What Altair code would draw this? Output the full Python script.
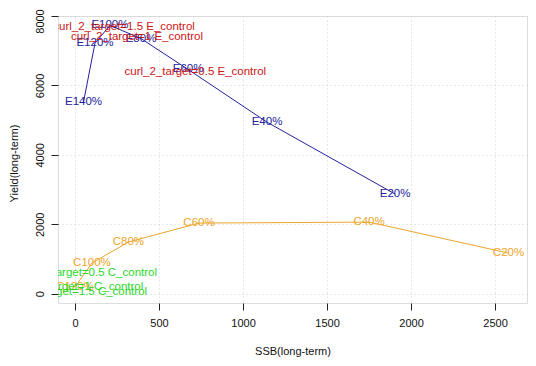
import altair as alt
import pandas as pd

# Blue "E" series
e_labels = ["E140%", "E120%", "E100%", "E80%", "E60%", "E40%", "E20%"]
e_ssb = [51, 119, 208, 393, 673, 1143, 1905]
e_yield = [5525, 7214, 7732, 7350, 6461, 4941, 2870]

# Orange "C" series
c_labels = ["C20%", "C40%", "C60%", "C80%", "C100%", "C120%"]
c_ssb = [2580, 1750, 738, 318, 101, 0]
c_yield = [1170, 2063, 2034, 1488, 883, 191]

# Red control labels
r_labels = ["curl_2_target=1.5 E_control", "curl_2_target=1 E_control", "curl_2_target=0.5 E_control"]
r_ssb = [292, 369, 716]
r_yield = [7674, 7387, 6380]

# Green control labels
g_labels = ["curl_2_target=0.5 C_control", "curl_2_target=1 C_control", "curl_2_target=1.5 C_control"]
g_ssb = [65, 12, 6]
g_yield = [596, 193, 49]

x_ticks = [0, 500, 1000, 1500, 2000, 2500]
y_ticks = [0, 2000, 4000, 6000, 8000]

BLUE = "#22229c"
ORANGE = "#eda52a"
RED = "#cc1515"
GREEN = "#2bd62b"
FONT = "Liberation Sans"

df_e = pd.DataFrame({"ssb": e_ssb, "yld": e_yield, "label": e_labels, "o": list(range(len(e_labels)))})
df_c = pd.DataFrame({"ssb": c_ssb, "yld": c_yield, "label": c_labels, "o": list(range(len(c_labels)))})
df_r = pd.DataFrame({"ssb": r_ssb, "yld": r_yield, "label": r_labels})
df_g = pd.DataFrame({"ssb": g_ssb, "yld": g_yield, "label": g_labels})

xs = alt.Scale(domain=[-101, 2690], nice=False, zero=False)
ys = alt.Scale(domain=[-268, 8000], nice=False, zero=False)

x_axis = alt.Axis(values=x_ticks, title="SSB(long-term)", grid=True, gridColor="#d0d0d0",
                  gridDash=[1, 3], domain=False, tickSize=7, tickColor="#222",
                  labelFontSize=11, labelPadding=7, labelColor="#111", titleFontSize=11,
                  titleFontWeight="normal", titlePadding=17, titleColor="#111",
                  labelFont=FONT, titleFont=FONT, format="d")
y_axis = alt.Axis(values=y_ticks, title="Yield(long-term)", grid=True, gridColor="#d0d0d0",
                  gridDash=[1, 3], domain=False, tickSize=7, tickColor="#222",
                  labelFontSize=11, labelAngle=270, labelAlign="center", labelBaseline="bottom",
                  labelPadding=6,
                  labelOffset=alt.condition("datum.value == 8000", alt.value(5), alt.value(0)),
                  labelColor="#111", titleFontSize=11, titleFontWeight="normal",
                  titleColor="#111", titleX=-44, titleY=147, titleAlign="center",
                  titleBaseline="middle", labelFont=FONT, titleFont=FONT, format="d")

X = alt.X("ssb:Q", scale=xs, axis=x_axis)
Y = alt.Y("yld:Q", scale=ys, axis=y_axis)
Xn = alt.X("ssb:Q", scale=xs)
Yn = alt.Y("yld:Q", scale=ys)

line_e = alt.Chart(df_e).mark_line(color=BLUE, strokeWidth=1, clip=True).encode(x=X, y=Y, order="o:Q")
line_c = alt.Chart(df_c).mark_line(color=ORANGE, strokeWidth=1, clip=True).encode(x=Xn, y=Yn, order="o:Q")

def txt(df, color):
    return alt.Chart(df).mark_text(color=color, fontSize=11.5, font=FONT, align="center",
                                   baseline="middle", clip=True).encode(x=Xn, y=Yn, text="label:N")

chart = alt.layer(
    line_e, line_c, txt(df_e, BLUE), txt(df_c, ORANGE), txt(df_r, RED), txt(df_g, GREEN)
).properties(
    width=469, height=287,
    autosize=alt.AutoSizeParams(type="none"),
    padding={"left": 50, "top": 8, "right": 1, "bottom": 62},
).configure_view(stroke="#222", strokeWidth=1).configure(background="white")

chart.save("out.html", embed_options={"renderer": "svg", "actions": False})
